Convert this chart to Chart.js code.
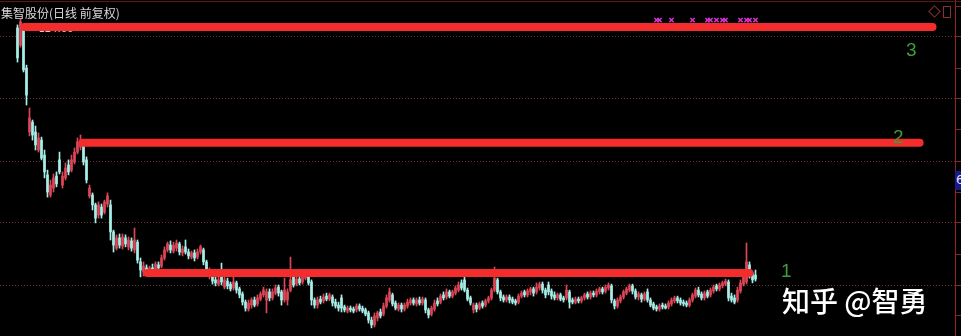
<!DOCTYPE html>
<html lang="zh-CN">
<head>
<meta charset="utf-8">
<title>集智股份(日线 前复权)</title>
<script src="https://cdn.jsdelivr.net/npm/chart.js@4.4.1/dist/chart.umd.min.js"></script>
<style>
  html, body { margin: 0; padding: 0; background: #000; }
  #wrap { position: relative; width: 961px; height: 336px; overflow: hidden; background: #000; }
  #chart { position: absolute; left: 0; top: 0; z-index: 1; }
  .txt { position: absolute; white-space: nowrap; line-height: 1; z-index: 2; }
  #title { left: 1px; top: 4px; font: 12px "Noto Sans CJK SC", sans-serif; color: #d8d8d8; }
  #maxlabel { left: 30px; top: 23px; font: 10px "DejaVu Sans", sans-serif; color: #d0d0d0; z-index: 0; }
  .num { font: 19px "Liberation Sans", sans-serif; color: #3c9e3c; }
  #mark { left: 782px; top: 280px; font: 500 28px "Noto Sans CJK SC", sans-serif; color: #fff; }
  #price6 { left: 955px; top: 171px; width: 8px; height: 19px; background: #1a1a86; color: #e0e0ff;
            font: 12px "DejaVu Sans", sans-serif; line-height: 19px; padding-left: 1px; }
  #topline { position: absolute; left: 0; top: 1px; width: 961px; height: 1px; background: #5e1818; z-index: 2; }
  #icon1 { position: absolute; left: 930px; top: 7px; width: 7px; height: 7px; border: 1px solid #8a3030;
           transform: rotate(45deg); z-index: 2; }
  #icon2 { position: absolute; left: 943px; top: 6px; width: 6px; height: 10px; border: 1px solid #8a3030; z-index: 2; }
</style>
</head>
<body>
<div id="wrap">
  <div id="topline"></div>
  <div class="txt" id="maxlabel">←124.66</div>
  <canvas id="chart" width="961" height="336"></canvas>
  <div class="txt" id="title">集智股份(日线 前复权)</div>
  <div id="icon1"></div>
  <div id="icon2"></div>
  <div class="txt num" style="left:906px;top:39px;">3</div>
  <div class="txt num" style="left:893px;top:126px;">2</div>
  <div class="txt num" style="left:781px;top:260px;">1</div>
  <div class="txt" id="mark">知乎 @智勇</div>
  <div class="txt" id="price6">6</div>
</div>
<script>
(function () {
  'use strict';

  // daily candles, price in yuan (前复权)
  var opens = [
    121.7, 116, 121, 108.3, 87, 90.3, 87, 81, 84.3, 79.3,
    72.7, 66, 68.3, 72.3, 77.7, 69.3, 71.7, 76, 74.3, 77,
    80.3, 82, 83.7, 77.7, 65.7, 66, 62.7, 59.3, 62, 60.3,
    63, 62.7, 53.7, 48.3, 51.7, 49, 51.7, 48.7, 50.7, 47.7,
    50.3, 43.7, 40.3, 41.7, 40.3, 41.7, 41, 42.7, 42.3, 45,
    47.7, 49.3, 47.3, 48.3, 49.7, 46.7, 48.7, 47, 45.3, 46.7,
    45.3, 47, 47.7, 43.7, 39, 40, 37.7, 36.3, 41, 35.3,
    37.3, 36.3, 35, 36.7, 34.7, 33, 30.3, 28, 29.3, 31,
    29.7, 31.3, 32.7, 31, 33.7, 31.7, 33.3, 35.3, 33.7, 31,
    31, 34.3, 39, 36.3, 38, 37, 38.3, 39.3, 37, 31,
    29.3, 31.3, 30.7, 32.3, 31.3, 32, 30.3, 29.3, 31.7, 28.7,
    27.3, 28.3, 28, 27.7, 29, 28.3, 27.7, 26.7, 24.3, 22.7,
    25, 27, 26.3, 29, 31, 32.7, 30, 28, 29.3, 28,
    29, 30, 31, 29.7, 31, 30, 31, 27.7, 26.3, 28,
    30.7, 30.3, 32.7, 32, 33.7, 32.3, 33.3, 34.3, 36.7, 37.7,
    34.3, 31.7, 27.7, 29.3, 28.3, 30, 29.3, 30.7, 31.7, 34.3,
    37.7, 33.7, 32, 31, 32, 31.3, 30.7, 30.3, 32.3, 33.7,
    32.7, 33.7, 34.7, 33.7, 35, 36.3, 34.3, 36, 34, 32.7,
    31.7, 32.7, 31.7, 31.7, 33.7, 31, 30.3, 31.3, 30.7, 31.7,
    33, 32, 33.3, 32.7, 33.7, 34.7, 34, 35, 35.7, 30.7,
    29, 30.7, 32, 33.3, 34.3, 35.7, 34, 32, 32.7, 31.3,
    33.7, 31, 29.7, 28.7, 28, 29.3, 29, 28.7, 29.7, 30.7,
    31.7, 31, 30.3, 30, 29.3, 31, 32.3, 34.3, 33, 31.7,
    33.7, 32.7, 34, 35.7, 34.7, 35.7, 36.3, 37, 32.3, 31.7,
    31, 34, 36.3, 37, 42.7, 39.7, 39.3
  ];
  var highs = [
    122.7, 124.66, 121.7, 109.3, 95, 91, 89, 86.7, 85.3, 81,
    74.3, 71, 73, 73.7, 80.3, 73.7, 76.7, 77.7, 79.3, 81.7,
    85, 86, 84.3, 78.7, 69.3, 66.7, 63.3, 63.7, 63, 64.3,
    66.7, 64.3, 54.3, 52.7, 53, 53, 52.7, 52, 51.7, 55,
    51, 45, 43.7, 42.7, 42.3, 43, 43.7, 43.7, 46, 48.7,
    50.3, 50.7, 50.3, 51, 50.3, 49, 51, 48, 47.3, 47.7,
    48, 49.3, 48.3, 44.3, 41.7, 41, 38.7, 38.7, 43.3, 38.7,
    38.3, 37, 39.3, 37.3, 35.3, 33.7, 31, 31, 31.7, 32,
    32.7, 33.7, 35.3, 34.7, 34.7, 34.7, 36, 36, 34.3, 38.3,
    34.7, 45.3, 41, 39, 39, 39.7, 40.3, 40, 37.7, 31.7,
    32, 32.3, 33, 33.3, 33.3, 32.7, 31.3, 30.3, 32.7, 29.3,
    29, 29, 28.7, 29.7, 29.7, 29, 28.3, 27.3, 25.3, 26.7,
    27.3, 28, 30, 32.7, 35, 33.3, 30.7, 30, 30, 30,
    31.3, 31.7, 31.7, 31.7, 32, 32, 31.7, 28.3, 29, 31,
    31.7, 33, 33.7, 34.7, 34.3, 34.3, 35.7, 37, 37.7, 39.3,
    35, 32.3, 30, 30, 30.3, 30.7, 31.3, 32.3, 35, 42,
    38.3, 34.3, 32.7, 32.7, 32.7, 32, 31.3, 33, 34, 34.3,
    34.7, 35.3, 35.3, 36.7, 37, 37, 35, 37, 34.7, 33.7,
    33.3, 33.3, 32.3, 36, 34.3, 31.7, 32, 32, 32.3, 33.3,
    33.7, 34, 34, 34.7, 35.3, 35.3, 36, 36.7, 36.3, 31.3,
    31.7, 32.7, 34.3, 35.3, 36.3, 36.3, 34.7, 33.7, 33.3, 33.7,
    34.7, 31.7, 30.3, 29.3, 29.7, 30, 29.7, 30.7, 31.7, 32.3,
    32.3, 31.7, 31, 30.7, 31.7, 33.3, 35, 35.3, 33.7, 34,
    34.3, 35, 36, 36.3, 36.7, 37.3, 38, 37.7, 33.3, 32.7,
    35.3, 37.7, 40.3, 50, 43.7, 40.3, 41
  ];
  var lows = [
    110.3, 115.3, 107, 96, 85.7, 84.3, 81, 80.3, 77.7, 71.7,
    65.3, 65.3, 67, 68.7, 73, 68.3, 71, 72.7, 73.7, 76.3,
    79.7, 81, 76, 70, 65, 61, 56.7, 58.3, 58.3, 59.7,
    62, 51, 47, 47.7, 48.3, 48, 48.7, 47.7, 47.3, 46.7,
    43.3, 38.7, 39, 39.7, 39.7, 40, 40.3, 41, 41.7, 44.3,
    47, 46.7, 46.7, 47.3, 46, 45.7, 46.3, 44.7, 44.7, 44,
    44.7, 46.3, 42.7, 39, 38, 36.3, 35.7, 35.7, 36, 34.7,
    34.7, 34, 34.3, 33.3, 31.7, 29.3, 27.3, 27.3, 28.3, 28.7,
    29, 30.7, 32, 26.7, 30.7, 31, 32.7, 32.3, 29.3, 30.3,
    29.3, 33.7, 35.3, 35.7, 36, 36.3, 37.7, 36, 29.3, 28.3,
    28.3, 29.7, 30, 30.7, 30.7, 29, 28.3, 27.3, 27, 27,
    26.7, 27, 26.7, 27, 27.3, 26.7, 25.7, 23.3, 21.7, 22,
    24, 25, 25.7, 28.3, 30.3, 29, 27.7, 27.3, 27, 27.3,
    28.3, 29.3, 29.3, 29, 29.3, 29.3, 26.7, 25, 25.7, 27.3,
    29, 29.7, 31, 31.3, 31.7, 31.7, 32.7, 33.7, 34.3, 33.7,
    30.7, 29.3, 26.7, 27, 27.7, 28.3, 28.7, 30, 31, 33.7,
    33, 30.7, 30.3, 30.3, 30, 29.7, 29.3, 29.7, 31.7, 32,
    32, 32.7, 32.3, 33, 34.3, 33.3, 31.7, 32.7, 31.3, 31,
    31, 30.7, 30.3, 31, 28.3, 29.7, 29.7, 30, 30, 31,
    31.3, 31.3, 32, 32, 33, 33, 33.3, 34.3, 30, 28,
    28.3, 30, 31.3, 32.7, 33.7, 33, 31.3, 31, 30.3, 30.7,
    30.3, 28.7, 27.7, 27.3, 27.3, 28, 28, 28, 29, 30,
    30, 29.3, 29, 28.7, 28.7, 30.3, 31.7, 32, 31, 31,
    31.7, 32, 33.3, 34, 34, 35, 35.7, 30.7, 30.3, 29.7,
    30.3, 33.3, 35.7, 36.3, 38.3, 36.7, 37.3
  ];
  var closes = [
    111.7, 123.7, 107.7, 99.3, 91.7, 86, 82.7, 85, 78.3, 73.7,
    67, 69.3, 71.7, 69.7, 73.7, 72.3, 75, 73.7, 77.7, 80.3,
    83.7, 84.3, 77, 71, 68.3, 62.7, 58.3, 62.7, 59.3, 63.7,
    65.7, 53.7, 49.3, 51.7, 49.3, 52, 49.7, 51, 48.3, 51,
    44.3, 41, 42.3, 40.3, 41.7, 41, 43, 41.7, 45, 47.7,
    49.7, 47.7, 49.3, 50, 47, 48, 47, 45.7, 46.7, 45,
    47, 48.7, 43.7, 40.3, 41, 37.3, 36.7, 37.7, 37, 37.7,
    35.7, 34.7, 37, 34.3, 32.7, 30.3, 28.3, 30, 31, 29.3,
    31.7, 33, 34.3, 33.7, 31.7, 33.7, 35, 33.3, 31, 34.3,
    33.7, 37.7, 36, 38, 36.7, 38.7, 39.7, 36.7, 31, 29.3,
    31, 30.3, 32, 31.3, 32.7, 30, 29, 28.3, 28.3, 27.7,
    28.3, 27.7, 27.3, 29, 28, 27.3, 26.3, 24.3, 22.7, 25.7,
    26.7, 25.7, 29, 31.7, 33.7, 29.7, 28.3, 29.3, 28, 29.3,
    30.3, 31, 30, 31, 30, 31.3, 27.7, 26, 28.3, 30,
    29.7, 32.3, 31.7, 33.7, 32.3, 33.7, 35, 36, 35, 34.3,
    31.3, 30, 29.3, 28, 29.7, 29, 30.7, 31.7, 34.3, 38.3,
    33.7, 31.7, 31, 32, 31, 30.3, 30, 32.3, 33.3, 32.7,
    34, 34.7, 33.3, 35.3, 36.3, 34.3, 32.7, 33.7, 32.3, 31.7,
    32.7, 31.3, 31, 34.3, 30.3, 30.3, 31.3, 30.7, 31.7, 32.7,
    32, 33.3, 32.7, 34, 34.7, 33.7, 35.3, 36, 31, 29,
    31, 32, 33.7, 34.7, 35.7, 34, 32, 33, 31.3, 33,
    31, 29.3, 28.3, 28, 29, 28.7, 28.3, 30, 31, 31.7,
    30.7, 30, 29.7, 29.3, 31, 32.7, 34.3, 32.7, 31.7, 33.3,
    32.3, 34.3, 35.3, 34.7, 36, 36.7, 37.3, 31.7, 31, 30.3,
    34.3, 36.7, 39.3, 43.7, 39.3, 37.7, 38
  ];

  // hand-drawn support / resistance levels (1, 2, 3)
  var levelPrices = [40.0, 83.4, 122.0];
  var levelFrom = [43.3, 21.7, 2.3];
  var levelTo = [244, 300.7, 305];

  // magenta signal marks along the top
  var markDays = [213, 214, 218, 225, 230, 231, 233, 235, 236, 241, 243, 244, 246];
  var markPrice = 124.3;

  // right axis ticks (every other one gets a dotted grid line)
  var axisTicks = [129, 118.7, 108.3, 98, 87.7, 77.3, 67, 56.7, 46.3, 36, 25.7];

  var UP = '#dc4656';
  var DOWN = '#a8eee8';

  var days = opens.map(function (v, i) { return i; });
  var colors = days.map(function (i) { return closes[i] >= opens[i] ? UP : DOWN; });

  var datasets = [];

  levelPrices.forEach(function (p, k) {
    datasets.push({
      type: 'line',
      data: [{ x: levelFrom[k], y: p }, { x: levelTo[k], y: p }],
      borderColor: '#f42c2c',
      borderWidth: 8,
      borderCapStyle: 'round',
      pointRadius: 0,
      order: 0
    });
  });

  datasets.push({
    type: 'line',
    showLine: false,
    data: markDays.map(function (d) { return { x: d, y: markPrice }; }),
    pointStyle: 'crossRot',
    pointRadius: 3,
    borderColor: '#d633d6',
    borderWidth: 1.5,
    order: 1
  });

  datasets.push({
    type: 'bar',
    data: days.map(function (i) { return { x: i, y: [opens[i], closes[i]] }; }),
    backgroundColor: colors,
    barThickness: 2,
    minBarLength: 1,
    grouped: false,
    order: 2
  });

  datasets.push({
    type: 'bar',
    data: days.map(function (i) { return { x: i, y: [lows[i], highs[i]] }; }),
    backgroundColor: colors,
    barThickness: 1,
    grouped: false,
    order: 3
  });

  new Chart(document.getElementById('chart'), {
    type: 'bar',
    data: { datasets: datasets },
    options: {
      responsive: false,
      animation: false,
      layout: { padding: 0, autoPadding: false },
      plugins: {
        legend: { display: false },
        tooltip: { enabled: false },
        title: { display: false }
      },
      scales: {
        x: {
          type: 'linear',
          display: false,
          offset: false,
          min: -5.8333,
          max: 312.5
        },
        y: {
          position: 'right',
          min: 19,
          max: 131,
          afterBuildTicks: function (scale) {
            scale.ticks = axisTicks.map(function (v) { return { value: v }; });
          },
          ticks: { display: false },
          grid: {
            color: function (c) { return c.index % 2 === 1 ? '#6a3030' : 'rgba(0,0,0,0)'; },
            tickColor: '#8a2424',
            tickLength: 6,
            lineWidth: 1
          },
          border: { display: true, color: '#8a2424', dash: [1, 2] }
        }
      }
    }
  });
})();
</script>
</body>
</html>
